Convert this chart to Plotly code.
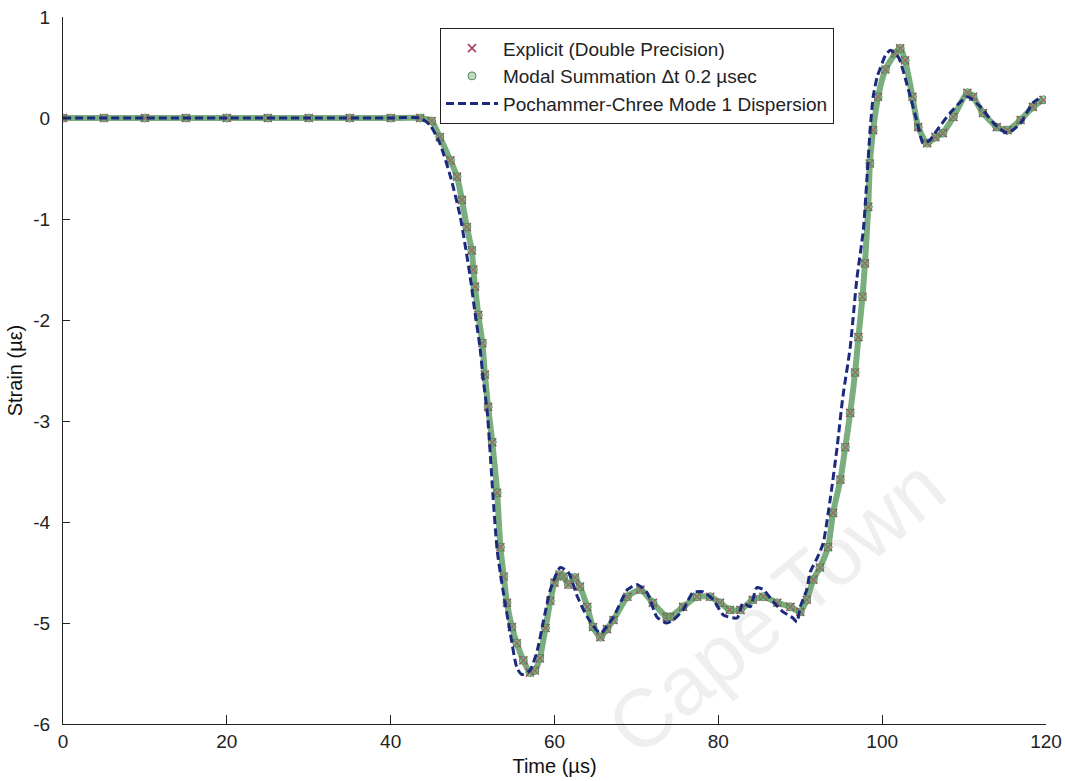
import plotly.graph_objects as go

# ---- axis ticks ----
x_tickvals = [0, 20, 40, 60, 80, 100, 120]
x_ticktext = ["0", "20", "40", "60", "80", "100", "120"]
y_tickvals = [-6, -5, -4, -3, -2, -1, 0, 1]
y_ticktext = ["-6", "-5", "-4", "-3", "-2", "-1", "0", "1"]

# ---- Pochammer-Chree Mode 1 Dispersion (dashed) ----
t_pc = [0.0, 10.0, 20.0, 30.0, 40.0, 43.6, 44.8, 46.0, 47.3, 48.5, 49.7, 50.3, 50.9, 51.3,
        51.8, 52.1, 52.5, 53.0, 53.7, 54.6, 55.4, 56.0, 57.0, 57.9, 58.6, 59.5, 60.7,
        61.7, 62.8, 64.0, 65.6, 67.2, 68.9, 70.1, 71.3, 72.5, 73.7, 74.5, 75.7, 76.9,
        78.1, 79.4, 80.6, 82.3, 83.0, 83.9, 84.7, 85.5, 86.7, 87.9, 89.1, 89.6, 90.0,
        90.8, 91.2, 92.1, 92.8, 93.7, 94.5, 95.2, 96.1, 96.9, 97.7, 98.1, 98.5, 98.9,
        99.4, 99.8, 100.4, 101.0, 102.0, 103.1, 104.3, 105.0, 105.8, 106.7, 108.3,
        110.4, 112.0, 113.6, 115.3, 116.9, 118.4, 119.5]
y_pc = [0.0, 0.0, 0.0, 0.0, 0.0, 0.0, -0.07, -0.25, -0.58, -0.98, -1.57, -1.93, -2.27, -2.59,
        -2.92, -3.26, -3.75, -4.28, -4.67, -5.10, -5.44, -5.51, -5.47, -5.27, -5.00, -4.67, -4.45,
        -4.50, -4.74, -4.94, -5.10, -4.94, -4.67, -4.62, -4.70, -4.94, -5.00, -4.97, -4.87, -4.70,
        -4.69, -4.77, -4.92, -4.95, -4.80, -4.84, -4.65, -4.67, -4.79, -4.89, -4.95, -4.99, -4.84,
        -4.67, -4.50, -4.35, -4.21, -3.75, -3.26, -2.76, -2.27, -1.60, -1.11, -0.65, -0.15, 0.21,
        0.41, 0.50, 0.62, 0.67, 0.60, 0.31, -0.05, -0.25, -0.22, -0.12, 0.05,
        0.21, 0.11, -0.05, -0.15, -0.05, 0.15, 0.21]

# ---- Modal Summation dt 0.2 usec (circles) ----
t_modal = [0.0, 5.0, 10.0, 15.0, 20.0, 25.0, 30.0, 35.0, 40.0, 43.6, 45.0, 46.0, 47.3, 48.1,
           48.7, 49.3, 49.9, 50.1, 50.3, 50.7, 51.2, 51.5, 51.9, 52.4, 53.0, 53.4, 53.8,
           54.2, 54.8, 55.4, 56.2, 57.0, 57.6, 58.2, 58.9, 59.5, 60.0, 60.6, 61.1, 61.7,
           62.5, 63.1, 64.0, 64.7, 65.6, 66.4, 67.2, 68.9, 70.5, 72.0, 73.7, 74.1, 75.7,
           77.4, 79.0, 80.2, 81.4, 82.7, 84.2, 85.5, 87.2, 88.8, 90.0, 90.8, 91.6, 92.4,
           93.4, 94.0, 94.9, 95.5, 96.1, 96.7, 97.1, 97.6, 97.9, 98.3, 98.5, 98.9, 99.5,
           100.4, 101.6, 102.2, 102.8, 103.7, 104.4, 105.5, 106.5, 107.4, 108.7, 110.4,
           111.1, 112.3, 114.0, 115.3, 116.9, 118.4, 119.7]
y_modal = [0.0, 0.0, 0.0, 0.0, 0.0, 0.0, 0.0, 0.0, 0.0, 0.0, -0.03, -0.19, -0.42, -0.58,
           -0.81, -1.08, -1.31, -1.50, -1.67, -1.95, -2.23, -2.54, -2.86, -3.21, -3.71, -4.25, -4.54,
           -4.80, -5.04, -5.20, -5.37, -5.49, -5.47, -5.35, -5.05, -4.78, -4.60, -4.52, -4.54, -4.62,
           -4.55, -4.64, -4.84, -5.04, -5.14, -5.06, -4.97, -4.74, -4.67, -4.80, -4.94, -4.94, -4.84,
           -4.74, -4.74, -4.80, -4.87, -4.87, -4.77, -4.74, -4.80, -4.84, -4.89, -4.77, -4.57, -4.45,
           -4.25, -3.91, -3.58, -3.26, -2.92, -2.52, -2.17, -1.77, -1.44, -0.88, -0.45, -0.12, 0.21,
           0.48, 0.64, 0.69, 0.57, 0.21, -0.09, -0.25, -0.19, -0.15, 0.01, 0.25,
           0.21, 0.05, -0.09, -0.12, -0.02, 0.11, 0.18]

# ---- Explicit (Double Precision): read as coincident with the modal points ----
t_explicit = list(t_modal)
y_explicit = list(y_modal)

FONT = "Arial, 'Liberation Sans', Helvetica, sans-serif"

fig = go.Figure()

# thick band formed by the dense modal markers
fig.add_trace(go.Scatter(
    x=t_modal, y=y_modal, mode="lines", showlegend=False, hoverinfo="skip",
    line=dict(color="rgba(100,160,105,0.85)", width=6, shape="spline", smoothing=0.6),
))
fig.add_trace(go.Scatter(
    x=t_explicit, y=y_explicit, mode="markers", name="Explicit (Double Precision)",
    marker=dict(symbol="x-thin", size=8, line=dict(color="#b0405a", width=1.6), color="#b0405a"),
))
fig.add_trace(go.Scatter(
    x=t_modal, y=y_modal, mode="markers", name="Modal Summation \u0394t 0.2 \u00b5sec",
    marker=dict(symbol="circle", size=8, color="rgba(120,175,120,0.45)",
                line=dict(color="#4f8c5c", width=1)),
))
fig.add_trace(go.Scatter(
    x=t_pc, y=y_pc, mode="lines", name="Pochammer-Chree Mode 1 Dispersion",
    line=dict(color="#1c2a7e", width=3, dash="8px,4px", shape="spline", smoothing=0.6),
))

# faint watermark, drawn beneath the data
fig.add_shape(
    type="rect", xref="paper", yref="paper", x0=0.62, x1=0.82, y0=0.075, y1=0.275,
    line=dict(width=0, color="rgba(0,0,0,0)"), fillcolor="rgba(0,0,0,0)", layer="below",
    label=dict(text="Cape Town", textangle=-40, textposition="middle center",
               font=dict(family=FONT, size=82, color="#efefef")),
)

fig.update_layout(
    width=1065, height=781,
    margin=dict(l=63, r=19, t=17, b=57),
    paper_bgcolor="white", plot_bgcolor="white",
    font=dict(family=FONT, size=19, color="#222222"),
    showlegend=True,
    legend=dict(
        x=0.3835, y=0.984, xanchor="left", yanchor="top",
        bgcolor="white", bordercolor="#222222", borderwidth=1,
        font=dict(family=FONT, size=19, color="#222222"),
        itemwidth=52, tracegroupgap=0,
    ),
    xaxis=dict(
        range=[0, 120], tickvals=x_tickvals, ticktext=x_ticktext,
        ticks="inside", ticklen=9, tickcolor="#222222", tickwidth=1,
        showline=True, linecolor="#222222", linewidth=1, mirror=False,
        showgrid=False, zeroline=False, automargin=False,
        title=dict(text="Time (\u00b5s)", font=dict(family=FONT, size=20, color="#111111"), standoff=8),
    ),
    yaxis=dict(
        range=[-6, 1], tickvals=y_tickvals, ticktext=y_ticktext,
        ticks="inside", ticklen=7, tickcolor="#222222", tickwidth=1,
        showline=True, linecolor="#222222", linewidth=1, mirror=False,
        showgrid=False, zeroline=False, ticklabelstandoff=8, automargin=False,
        title=dict(text="Strain (\u00b5\u03b5)", font=dict(family=FONT, size=20, color="#111111"), standoff=5),
    ),
)

fig.write_html("out.html")
